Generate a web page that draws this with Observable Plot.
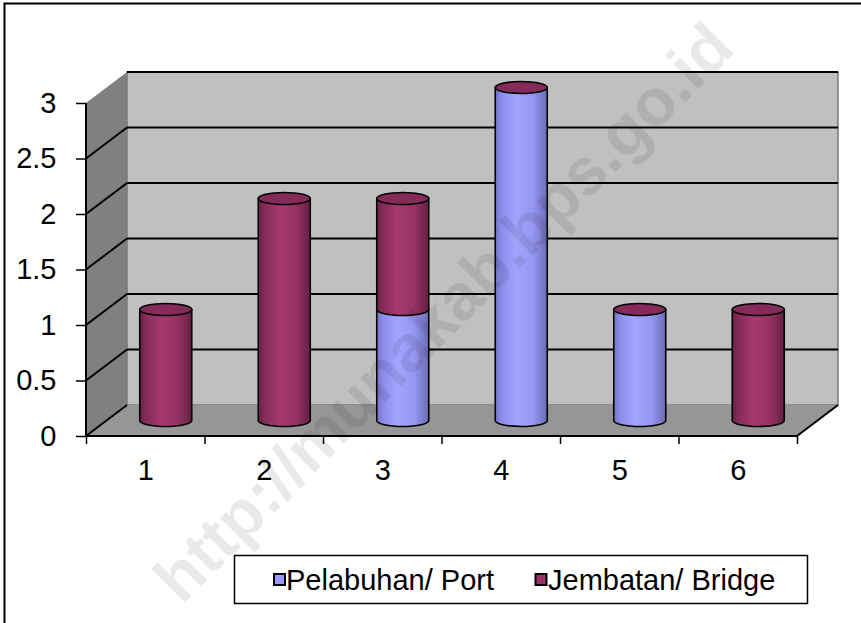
<!DOCTYPE html>
<html><head><meta charset="utf-8">
<script src="https://cdn.jsdelivr.net/npm/d3@7"></script>
<script src="https://cdn.jsdelivr.net/npm/@observablehq/plot@0.6"></script>
<style>html,body{margin:0;padding:0;background:#fff;} #chart{width:861px;height:623px;overflow:hidden}</style>
</head><body><div id="chart"></div>
<script>
const categories = ["1","2","3","4","5","6"];
const seriesNames = ["Pelabuhan/ Port","Jembatan/ Bridge"];
const portValues = [0,0,1,3,1,0];
const bridgeValues = [1,2,1,0,0,1];
const yTicks = [0,0.5,1,1.5,2,2.5,3];
const watermark = "http://munakab.bps.go.id";

const DEPTH_X = 41, DEPTH_Y = 31, RX = 26, RY = 6;
const seriesFill = ["#9999ff", "#993366"];
const n = categories.length;
const yMax = yTicks[yTicks.length - 1];

function scene(index, scales) {
  const x = scales.x, y = scales.y;
  const g = d3.create("svg:g");
  const defs = g.append("defs");
  function grad(id, stops) {
    const lg = defs.append("linearGradient").attr("id", id).attr("x1", 0).attr("x2", 1).attr("y1", 0).attr("y2", 0);
    stops.forEach(([o, c]) => lg.append("stop").attr("offset", o).attr("stop-color", c));
  }
  grad("gPort", [[0, "#7474c4"], [0.12, "#8c8ceb"], [0.4, "#a4a4ff"], [0.72, "#9696f3"], [1, "#6c6cb6"]]);
  grad("gBridge", [[0, "#6a2146"], [0.12, "#842b59"], [0.4, "#a6396f"], [0.72, "#963364"], [1, "#661f42"]]);
  const grads = ["gPort", "gBridge"];

  const X0 = x(0), X1 = x(n), Y0 = y(0), Y1 = y(yMax);
  const bx = DEPTH_X, by = -DEPTH_Y;
  g.append("path").attr("d", `M${X0},${Y0}L${X0},${Y1}L${X0 + bx},${Y1 + by}L${X0 + bx},${Y0 + by}Z`).attr("fill", "#808080");
  g.append("rect").attr("x", X0 + bx).attr("y", Y1 + by).attr("width", X1 - X0).attr("height", Y0 - Y1)
    .attr("fill", "#c0c0c0").attr("stroke", "#7a7a7a").attr("stroke-width", 1.5);
  g.append("path").attr("d", `M${X0},${Y0}L${X1},${Y0}L${X1 + bx},${Y0 + by}L${X0 + bx},${Y0 + by}Z`).attr("fill", "#969696");
  yTicks.forEach(t => {
    const yy = y(t);
    if (t > 0) g.append("line").attr("x1", X0 + bx).attr("x2", X1 + bx).attr("y1", yy + by).attr("y2", yy + by)
      .attr("stroke", "black").attr("stroke-width", 2);
    if (t < yMax) g.append("line").attr("x1", X0).attr("x2", X0 + bx).attr("y1", yy).attr("y2", yy + by)
      .attr("stroke", "black").attr("stroke-width", 2);
  });
  const edge = (a, b, c, d) => g.append("line").attr("x1", a).attr("y1", b).attr("x2", c).attr("y2", d).attr("stroke", "black").attr("stroke-width", 2);
  edge(X0, Y0, X0, Y1);
  edge(X0, Y0, X1, Y0);
  edge(X1, Y0, X1 + bx, Y0 + by);

  categories.forEach((c, i) => {
    const cx = x(i + 0.5) + bx / 2;
    const off = by / 2;
    let base = 0;
    [portValues[i], bridgeValues[i]].forEach((v, s) => {
      if (v > 0) {
        const yb = y(base) + off, yt = y(base + v) + off;
        g.append("path")
          .attr("d", `M${cx - RX},${yt}L${cx - RX},${yb}A${RX},${RY} 0 0 0 ${cx + RX},${yb}L${cx + RX},${yt}Z`)
          .attr("fill", `url(#${grads[s]})`).attr("stroke", "black").attr("stroke-width", 1.6);
      }
      base += v;
    });
    g.append("ellipse").attr("cx", cx).attr("cy", y(base) + off).attr("rx", RX).attr("ry", RY)
      .attr("fill", "#852b59").attr("stroke", "black").attr("stroke-width", 1.6);
  });
  return g.node();
}

function overlay() {
  const g = d3.create("svg:g");
  g.append("path").attr("d", "M4.5,623V3.5H861").attr("fill", "none").attr("stroke", "black").attr("stroke-width", 2);
  const lg = g.append("g").attr("font-size", 29).attr("text-anchor", "start");
  lg.append("rect").attr("x", 234.5).attr("y", 555.5).attr("width", 573).attr("height", 48)
    .attr("fill", "white").attr("stroke", "black").attr("stroke-width", 1.5);
  const items = [[274, 286], [535.5, 548]];
  seriesNames.forEach((name, s) => {
    lg.append("rect").attr("x", items[s][0]).attr("y", 574).attr("width", 11).attr("height", 11)
      .attr("fill", seriesFill[s]).attr("stroke", "black").attr("stroke-width", 2);
    lg.append("text").attr("x", items[s][1]).attr("y", 590).attr("fill", "black").attr("text-anchor", "start").text(name);
  });
  g.append("text").attr("transform", "translate(443,312) rotate(-45)")
    .attr("text-anchor", "middle").attr("dominant-baseline", "central")
    .attr("font-size", 66).attr("font-weight", "bold").attr("fill", "black").attr("fill-opacity", 0.085)
    .text(watermark);
  return g.node();
}

const chart = Plot.plot({
  width: 861, height: 623,
  marginLeft: 86, marginRight: 64, marginTop: 103, marginBottom: 187,
  x: {domain: [0, n], axis: null},
  y: {domain: [0, yMax], axis: null},
  style: {fontFamily: "'Liberation Sans', Arial, sans-serif", fontSize: "29px", background: "white", color: "black"},
  marks: [
    scene,
    Plot.axisY({ticks: yTicks, tickSize: 10, tickPadding: 20, tickFormat: d => String(d), label: null, strokeWidth: 1.5}),
    Plot.axisX({ticks: d3.range(n + 1), tickSize: 8, tickFormat: () => "", label: null, strokeWidth: 1.5}),
    Plot.axisX({ticks: d3.range(n).map(i => i + 0.5), tickSize: 0, tickPadding: 23, tickFormat: d => categories[Math.round(d - 0.5)], label: null}),
    overlay
  ]
});
document.getElementById("chart").appendChild(chart);
</script>
</body></html>
